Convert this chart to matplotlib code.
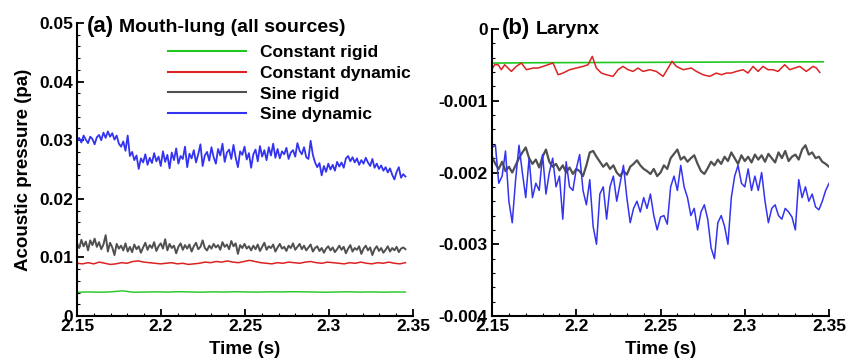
import numpy as np
import matplotlib
matplotlib.use("Agg")
import matplotlib.pyplot as plt
from matplotlib.ticker import MultipleLocator, FuncFormatter

plt.rcParams['font.family'] = ['Liberation Sans', 'DejaVu Sans']
plt.rcParams['font.weight'] = 'bold'
plt.rcParams['axes.unicode_minus'] = False

# ---- (a) Mouth-lung, values in 1e-3 pa, sampled 2.15 .. 2.3455 s ----
a_blue = [
    29.8, 30.4, 29.6, 30.8, 30.1, 29.5, 30.6, 30.2, 29.3, 30.5,
    30.9, 30.0, 31.3, 30.4, 31.5, 30.6, 31.2, 30.1, 30.8, 29.4,
    28.9, 29.8, 28.2, 30.8, 27.3, 28.0, 26.6, 27.4, 25.1, 26.9,
    26.2, 27.6, 25.8, 27.0, 26.1, 27.8, 26.4, 27.2, 25.6, 28.1,
    26.3, 27.5, 25.2, 27.9, 26.6, 28.6, 26.0, 27.3, 26.8, 28.9,
    25.4, 27.7, 26.9, 28.3, 26.2, 27.6, 29.3, 25.6, 27.4, 28.0,
    26.5, 28.8, 27.1, 26.0, 28.5, 27.4, 29.4, 26.3, 27.9, 28.4,
    26.8, 29.2, 27.0, 25.4, 28.1, 27.5, 28.9, 26.7, 27.8, 25.3,
    27.6, 28.4, 26.4, 29.0, 27.2, 28.3, 26.6, 28.8, 27.4, 29.4,
    27.0, 28.5, 26.9, 28.1, 27.6, 28.7, 26.8, 27.9, 28.3, 27.2,
    29.5, 28.2, 27.6, 28.8, 27.1, 26.8, 29.9, 27.5, 26.2, 25.4,
    26.1, 24.0, 25.6, 24.6, 26.0, 25.0, 25.8, 24.8, 26.3, 25.5,
    26.2, 25.3, 26.9, 27.3, 26.4, 27.1, 26.2, 26.9, 25.8, 26.6,
    26.0, 27.0, 26.2, 25.6, 26.8, 25.3, 26.0, 25.1, 25.7, 24.8,
    25.4, 24.5, 25.2, 24.1, 23.3, 24.6, 25.4, 23.6, 24.2, 23.8]
a_gray = [
    12.4, 11.6, 13.0, 11.9, 12.7, 11.2, 12.9, 12.1, 13.2, 11.8,
    12.6, 11.4, 12.2, 13.8, 11.0, 12.5, 11.7, 10.4, 12.3, 11.5,
    12.0, 11.2, 12.4, 11.0, 11.8, 10.9, 12.2, 11.4, 11.9, 10.8,
    11.7, 12.5, 11.3, 12.1, 11.6, 12.6, 11.1, 11.9, 12.4, 11.5,
    13.1, 11.2, 12.3, 11.6, 12.0, 10.7, 11.8, 12.4, 11.3, 12.1,
    11.5, 12.2, 11.0, 11.9, 12.5, 11.4, 11.8, 12.9, 11.6, 11.2,
    12.0, 11.5, 12.3, 11.7, 12.1, 11.3, 12.6, 11.8, 12.2, 11.4,
    12.8, 11.9, 12.4, 10.6, 12.1, 11.6, 12.3, 11.5, 11.9, 11.2,
    12.0, 11.4, 12.2, 11.1, 11.8, 12.5, 11.3, 11.9, 11.6, 12.2,
    11.0, 11.7, 12.3, 11.5, 11.8, 11.1, 12.0, 11.6, 12.4, 11.3,
    11.8, 12.3, 11.4, 12.0, 11.2, 11.7, 12.2, 11.0, 11.6, 11.9,
    11.1, 11.6, 10.8, 11.5, 11.9, 11.2, 11.7, 10.9, 11.4, 12.0,
    11.3, 11.8, 10.7, 11.5, 12.1, 11.0, 11.6, 11.3, 11.9, 10.6,
    11.5, 12.0, 11.2, 11.7, 10.4, 11.4, 11.9, 11.1, 11.6, 10.8,
    11.3, 11.9, 11.0, 11.6, 11.2, 11.8, 10.9, 11.5, 11.7, 11.4]
a_red = [
    9.0, 8.9, 9.1, 8.9, 9.2, 9.0, 8.8, 8.9, 9.1, 9.0,
    9.3, 9.4, 9.2, 9.1, 9.0, 8.9, 9.0, 9.1, 8.9, 9.0,
    8.8, 8.9, 9.0, 9.2, 9.1, 9.3, 9.2, 9.4, 9.2, 9.1,
    9.3, 9.5, 9.3, 9.1, 9.0, 8.9, 9.1, 9.0, 9.2, 9.1,
    9.0, 9.2, 9.3, 9.1, 9.0, 9.2, 9.1, 9.0, 8.9, 9.1,
    9.0, 9.2, 9.0, 8.9, 9.1, 9.0, 9.2, 9.0, 8.9, 9.1]
a_green = [
    4.05, 4.10, 4.06, 4.12, 4.30, 4.05, 4.09, 4.12, 4.08, 4.15,
    4.10, 4.07, 4.12, 4.09, 4.14, 4.10, 4.08, 4.13, 4.11, 4.15,
    4.12, 4.09, 4.06, 4.10, 4.13, 4.08, 4.11, 4.07, 4.10, 4.08]

# ---- (b) Larynx, values in 1e-3 pa ----
b_blue = [
    -1.65, -1.62, -2.15, -2.05, -1.70, -2.40, -2.70, -2.10, -1.62, -2.00,
    -2.35, -1.80, -2.35, -2.15, -2.25, -1.75, -2.30, -2.00, -1.80, -2.20,
    -2.05, -2.65, -1.85, -2.20, -2.25, -1.95, -1.75, -2.25, -2.45, -2.10,
    -2.75, -3.00, -2.30, -2.20, -2.65, -2.20, -2.05, -2.40, -2.15, -1.90,
    -2.35, -2.70, -2.50, -2.40, -2.55, -2.35, -2.50, -2.30, -2.60, -2.80,
    -2.62, -2.60, -2.72, -2.20, -2.05, -2.25, -1.90, -2.20, -2.35, -2.60,
    -2.50, -2.80, -2.55, -2.45, -2.65, -3.05, -3.20, -2.70, -2.60, -2.75,
    -3.00, -2.35, -2.05, -1.90, -2.15, -2.20, -1.95, -2.25, -2.05, -2.25,
    -2.00, -2.40, -2.70, -2.50, -2.45, -2.60, -2.65, -2.50, -2.55, -2.62,
    -2.80, -2.10, -2.35, -2.20, -2.40, -2.30, -2.48, -2.52, -2.40, -2.25,
    -2.15]
b_gray = [
    -1.78, -1.88, -1.95, -1.85, -1.98, -1.92, -2.00, -1.90, -1.80, -1.72,
    -1.65, -1.80, -1.88, -1.82, -1.93, -1.78, -1.68, -1.85, -1.92, -1.88,
    -1.97, -1.90, -2.00, -1.93, -2.02, -1.95, -1.98, -2.05, -1.90, -1.72,
    -1.70, -1.78, -1.85, -1.92, -1.87, -1.95, -1.90, -2.00, -2.05, -1.98,
    -2.03, -1.92, -1.88, -1.83, -1.90, -1.95, -1.98, -2.02, -1.95, -2.05,
    -2.00, -1.90, -1.95, -1.80, -1.74, -1.68, -1.82, -1.78, -1.85, -1.80,
    -1.76, -1.88, -1.98, -2.02, -1.94, -1.85, -1.90, -1.82, -1.88, -1.78,
    -1.84, -1.72, -1.80, -1.88, -1.76, -1.84, -1.78, -1.86, -1.75, -1.82,
    -1.76, -1.85, -1.74, -1.80, -1.86, -1.72, -1.80, -1.70, -1.84, -1.78,
    -1.75, -1.82, -1.68, -1.62, -1.75, -1.72, -1.80, -1.78, -1.85, -1.88,
    -1.92]
b_red_t = [
    2.1500, 2.1516, 2.1536, 2.1555, 2.1575, 2.1595, 2.1615, 2.1644, 2.1674, 2.1704,
    2.1743, 2.1773, 2.1803, 2.1832, 2.1862, 2.1892, 2.1921, 2.1961, 2.2000, 2.2040,
    2.2070, 2.2095, 2.2119, 2.2149, 2.2178, 2.2218, 2.2248, 2.2277, 2.2307, 2.2337,
    2.2366, 2.2396, 2.2436, 2.2475, 2.2515, 2.2545, 2.2568, 2.2594, 2.2634, 2.2683,
    2.2713, 2.2752, 2.2792, 2.2831, 2.2861, 2.2891, 2.2920, 2.2950, 2.2990, 2.3019,
    2.3049, 2.3079, 2.3108, 2.3138, 2.3168, 2.3197, 2.3237, 2.3267, 2.3296, 2.3326,
    2.3365, 2.3405, 2.3425, 2.3445]
b_red = [
    -0.558, -0.498, -0.498, -0.567, -0.498, -0.544, -0.591, -0.521, -0.474, -0.567,
    -0.544, -0.544, -0.521, -0.498, -0.474, -0.637, -0.614, -0.567, -0.544, -0.521,
    -0.498, -0.381, -0.544, -0.614, -0.637, -0.660, -0.567, -0.521, -0.567, -0.591,
    -0.544, -0.591, -0.567, -0.591, -0.660, -0.544, -0.451, -0.521, -0.567, -0.544,
    -0.591, -0.637, -0.660, -0.614, -0.637, -0.614, -0.614, -0.591, -0.567, -0.614,
    -0.521, -0.591, -0.521, -0.567, -0.567, -0.591, -0.498, -0.567, -0.544, -0.521,
    -0.591, -0.521, -0.544, -0.605]
b_green = [-0.475, -0.470, -0.468, -0.466, -0.464, -0.462, -0.460, -0.458, -0.457]

labels = ['Constant rigid', 'Constant dynamic', 'Sine rigid', 'Sine dynamic']
colors = ['#1ec81e', '#dd2222', '#505050', '#3333f0']


def t_axis(vals, t0, t1):
    return np.linspace(t0, t1, len(vals))


fig = plt.figure(figsize=(8.47, 3.6), dpi=100)
ax1 = fig.add_axes([0.0909, 0.1222, 0.3967, 0.8139])
ax2 = fig.add_axes([0.5809, 0.1222, 0.3979, 0.7972])

s = 1e-3
ax1.plot(t_axis(a_green, 2.15, 2.3455), np.array(a_green) * s, color=colors[0], lw=1.0, label=labels[0])
ax1.plot(t_axis(a_red, 2.15, 2.3455), np.array(a_red) * s, color=colors[1], lw=1.1, label=labels[1])
ax1.plot(t_axis(a_gray, 2.15, 2.3455), np.array(a_gray) * s, color=colors[2], lw=1.4, label=labels[2])
ax1.plot(t_axis(a_blue, 2.15, 2.3455), np.array(a_blue) * s, color=colors[3], lw=1.3, label=labels[3])

ax2.plot(t_axis(b_green, 2.15, 2.3465), np.array(b_green) * s, color=colors[0], lw=1.2)
ax2.plot(b_red_t, np.array(b_red) * s, color=colors[1], lw=1.1)
ax2.plot(t_axis(b_gray, 2.15, 2.35), np.array(b_gray) * s, color=colors[2], lw=1.6)
ax2.plot(t_axis(b_blue, 2.15, 2.35), np.array(b_blue) * s, color=colors[3], lw=1.1)

ax1.set_ylim(0, 0.05)
ax2.set_ylim(-0.004, 0)
fmt = FuncFormatter(lambda v, p: '%g' % round(v, 6))
for ax, major in ((ax1, 0.01), (ax2, 0.001)):
    ax.set_xlim(2.15, 2.35)
    ax.xaxis.set_major_locator(MultipleLocator(0.05))
    ax.xaxis.set_minor_locator(MultipleLocator(0.01))
    ax.yaxis.set_major_locator(MultipleLocator(major))
    ax.yaxis.set_minor_locator(MultipleLocator(major / 5))
    ax.xaxis.set_major_formatter(fmt)
    ax.yaxis.set_major_formatter(fmt)
    for sp in ('top', 'right'):
        ax.spines[sp].set_visible(False)
    for sp in ('left', 'bottom'):
        ax.spines[sp].set_linewidth(1.5)
    ax.tick_params(which='major', direction='in', length=5, width=1.3, labelsize=12.5, pad=3)
    ax.tick_params(which='minor', direction='in', length=2.5, width=0.8)
    ax.tick_params(axis='x', which='major', pad=2)
    for lab in ax.get_xticklabels() + ax.get_yticklabels():
        lab.set_fontweight('bold')
    ax.set_xlabel('Time (s)', fontsize=13.5, fontweight='bold', labelpad=5)

ax1.set_ylabel('Acoustic pressure (pa)', fontsize=13.5, fontweight='bold', labelpad=5)

ax1.text(0.03, 0.97, '(a)', transform=ax1.transAxes, fontsize=16, fontweight='bold', va='baseline')
ax1.text(0.125, 0.97, 'Mouth-lung (all sources)', transform=ax1.transAxes, fontsize=14,
         fontweight='bold', va='baseline')
ax2.text(0.03, 0.982, '(b)', transform=ax2.transAxes, fontsize=16, fontweight='bold', va='baseline')
ax2.text(0.13, 0.982, 'Larynx', transform=ax2.transAxes, fontsize=14, fontweight='bold', va='baseline')

leg = ax1.legend(loc='upper left', bbox_to_anchor=(0.27, 0.925), frameon=False, fontsize=12.5,
                 handlelength=4.5, handletextpad=0.8, labelspacing=0.32, borderpad=0, borderaxespad=0)
for h in leg.get_lines():
    h.set_linewidth(1.5)

fig.savefig('out.png', dpi=100)
